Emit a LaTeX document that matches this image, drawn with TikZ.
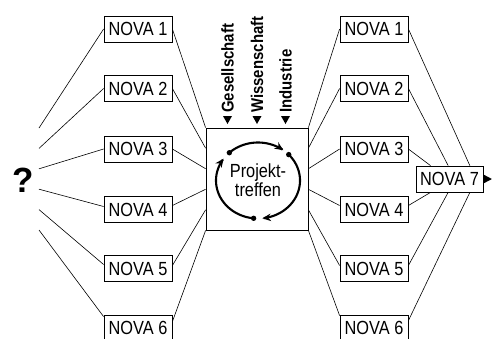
\documentclass[tikz,border=0pt]{standalone}
\usepackage{fontspec}
\setmainfont{Liberation Sans}
\newfontfamily\novafont[FakeStretch=0.86]{Liberation Sans}
\newfontfamily\labfont[FakeStretch=0.88]{Liberation Sans}
\usetikzlibrary{calc,arrows.meta}
\begin{document}
\begin{tikzpicture}[x=1pt,y=-1pt,
  nova/.style={draw,line width=0.8pt,minimum width=68pt,minimum height=26pt,inner sep=0pt,
    font=\novafont\fontsize{19}{22}\selectfont},
  conn/.style={line width=0.6pt},
  vlab/.style={rotate=90,anchor=west,inner sep=0pt,font=\labfont\bfseries\fontsize{17}{19}\selectfont},
  cyc/.style={line width=2.1pt},
  dotc/.style={fill=black}]
\useasboundingbox (0,0) rectangle (494,338);
\begin{scope}
\clip (0,0) rectangle (494,338);
% question mark
\node[font=\bfseries\fontsize{35}{36}\selectfont,inner sep=0pt] (q) at (23,180) {?};
% NOVA boxes
\foreach \i/\y in {1/29,2/88.5,3/149,4/209.5,5/268.5,6/328}{
  \node[nova] (l\i) at (138,\y) {NOVA \i};
  \node[nova] (r\i) at (374,\y) {NOVA \i};
}
\node[nova,minimum width=67pt] (n7) at (449.5,179) {NOVA 7};
% middle box
\node[draw,line width=0.8pt,minimum width=102pt,minimum height=102pt,inner sep=0pt] (mb) at (257,179) {};
\node[font=\novafont\fontsize{19}{19}\selectfont,align=center,inner sep=0pt] (pt) at (258,180) {Projekt-\\treffen};
% fan ends and attachment points
\foreach \i in {1,...,6}{
  \coordinate (f\i) at ($(39,128)+(0,{20.4*(\i-1)})$);
  \coordinate (ml\i) at ($(mb.north west)!{(\i-1)/5}!(mb.south west)$);
  \coordinate (mr\i) at ($(mb.north east)!{(\i-1)/5}!(mb.south east)$);
}
% fan to left boxes
\draw[conn] (f1) -- (l1.west);
\draw[conn] (f2) -- (l2.west);
\draw[conn] (f3) -- (l3.west);
\draw[conn] (f4) -- ([yshift=3pt]l4.west);
\draw[conn] (f5) -- ([yshift=4pt]l5.west);
\draw[conn] (f6) -- ([yshift=-2pt]l6.north west);
% left boxes to middle
\draw[conn] (l1.east) -- (ml1);
\draw[conn] (l2.east) -- (ml2);
\draw[conn] (l3.east) -- (ml3);
\draw[conn] ([yshift=4pt]l4.east) -- (ml4);
\draw[conn] ([yshift=3pt]l5.east) -- (ml5);
\draw[conn] ([yshift=-7pt]l6.north east) -- (ml6);
% middle to right boxes
\draw[conn] (mr1) -- (r1.west);
\draw[conn] (mr2) -- (r2.west);
\draw[conn] (mr3) -- (r3.west);
\draw[conn] (mr4) -- ([yshift=4pt]r4.west);
\draw[conn] (mr5) -- ([yshift=3pt]r5.west);
\draw[conn] (mr6) -- ([yshift=-1pt]r6.north west);
% right boxes to NOVA 7
\draw[conn] (r1.east) -- ($(n7.north west)!0.80!(n7.north east)$);
\draw[conn] (r2.east) -- ($(n7.north west)!0.48!(n7.north east)$);
\draw[conn] (r3.east) -- ($(n7.north west)!0.22!(n7.north east)$);
\draw[conn] ([yshift=4pt]r4.east) -- ($(n7.south west)!0.22!(n7.south east)$);
\draw[conn] ([yshift=3pt]r5.east) -- ($(n7.south west)!0.48!(n7.south east)$);
\draw[conn] ([yshift=-6pt]r6.north east) -- ($(n7.south west)!0.80!(n7.south east)$);
% NOVA 7 output arrow
\fill ($(n7.east)+(0,-4.5)$) -- ($(n7.east)+(8.5,0)$) -- ($(n7.east)+(0,4.5)$) -- cycle;
% vertical labels
\node[vlab] (g) at (227.5,113) {Gesellschaft};
\node[vlab] (w) at (257,113) {Wissenschaft};
\node[vlab] (ind) at (285.5,113) {Industrie};
\foreach \x in {227.5,257,285.5}{
  \fill (\x-4.5,116) -- (\x+4.5,116) -- (\x,124) -- cycle;
}
% cycle arrows
\draw[cyc,-{Stealth[length=8.5pt,width=7.5pt]}] plot[domain=-133:-53,samples=40,smooth] ({258+42*cos(\x)},{180.5+38*sin(\x)});
\draw[cyc,-{Stealth[length=8.5pt,width=7.5pt]}] plot[domain=-43:84,samples=50,smooth] ({258+42*cos(\x)},{180.5+38*sin(\x)});
\draw[cyc,-{Stealth[length=8.5pt,width=7.5pt]}] plot[domain=96:215,samples=50,smooth] ({258+42*cos(\x)},{180.5+38*sin(\x)});
\foreach \a in {-133,-43,96}{
  \fill ({258+42*cos(\a)},{180.5+38*sin(\a)}) circle[radius=2.7pt];
}
\end{scope}
\end{tikzpicture}
\end{document}
